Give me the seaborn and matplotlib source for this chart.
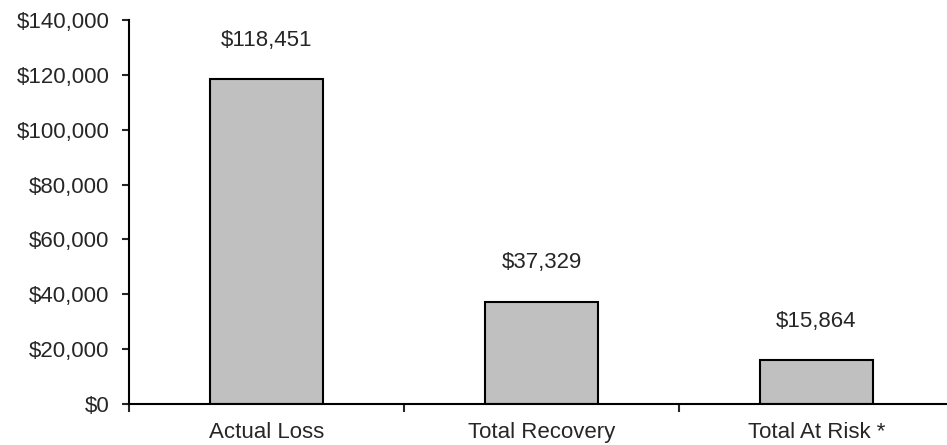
import matplotlib
matplotlib.use("Agg")
import matplotlib.pyplot as plt
import seaborn as sns
import pandas as pd
from matplotlib.ticker import FuncFormatter, FixedLocator

categories = ["Actual Loss", "Total Recovery", "Total At Risk *"]
values = [118451, 37329, 15864]
y_ticks = [0, 20000, 40000, 60000, 80000, 100000, 120000, 140000]

sns.set_style("white")
plt.rcParams['font.family'] = ['Liberation Sans', 'DejaVu Sans']

df = pd.DataFrame({"category": categories, "value": values})

fig = plt.figure(figsize=(9.47, 4.45), dpi=100)
ax = fig.add_axes([129/947, 41/445, 825/947, 384/445])

sns.barplot(data=df, x="category", y="value", ax=ax, color="#C0C0C0",
            edgecolor="black", linewidth=1.5, width=0.41, saturation=1)

ax.set_xlim(-0.5, 2.5)
ax.set_ylim(0, 140000)
ax.set_yticks(y_ticks)
ax.yaxis.set_major_formatter(FuncFormatter(lambda v, p: f"${v:,.0f}"))
ax.set_xlabel("")
ax.set_ylabel("")

for s in ["top", "right"]:
    ax.spines[s].set_visible(False)
for s in ["left", "bottom"]:
    ax.spines[s].set_linewidth(1.5)
    ax.spines[s].set_color("black")

ax.tick_params(axis="y", direction="out", length=5, width=1.5, labelsize=16, pad=9, left=True)
ax.tick_params(axis="x", which="major", length=0, labelsize=16, pad=13)
ax.xaxis.set_minor_locator(FixedLocator([-0.5, 0.5, 1.5, 2.5]))
ax.tick_params(axis="x", which="minor", direction="out", length=6, width=1.5, bottom=True)

for i, v in enumerate(values):
    ax.annotate(f"${v:,.0f}", xy=(i, v), xytext=(0, 28), textcoords="offset points",
                ha="center", va="center", fontsize=16)

fig.savefig("out.png", dpi=100)
